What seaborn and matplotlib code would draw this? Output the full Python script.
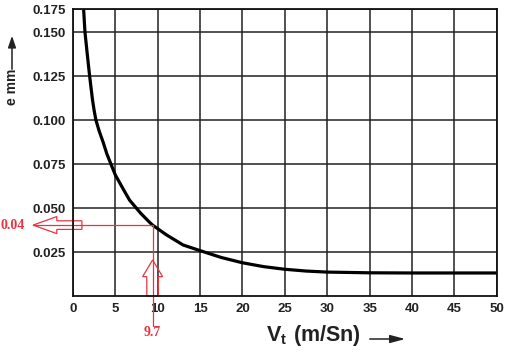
import numpy as np
import pandas as pd
import matplotlib
matplotlib.use('Agg')
import matplotlib.pyplot as plt
import matplotlib.patches as mpatches
import seaborn as sns

# values
vt = [1.1, 1.26, 1.42, 1.7, 1.97, 2.3, 2.5, 2.71, 3.1, 3.57, 4.0, 4.48, 5.0, 6.0, 6.68, 8.0, 9.08, 9.4,
      11.05, 13.0, 15.0, 17.5, 20, 22.5, 25, 27.5, 30, 35, 40, 45, 50]
e_mm = [0.172, 0.163, 0.150, 0.137, 0.125, 0.1118, 0.1055, 0.100, 0.0937, 0.0873, 0.0808, 0.075, 0.0688,
        0.0602, 0.0545, 0.047, 0.0417, 0.0403, 0.0347, 0.029, 0.0258, 0.0219, 0.0189, 0.0167, 0.0152,
        0.0142, 0.0136, 0.0132, 0.0131, 0.0131, 0.0131]
x_ticks = [0, 5, 10, 15, 20, 25, 30, 35, 40, 45, 50]
y_ticks = [0.025, 0.050, 0.075, 0.100, 0.125, 0.150, 0.163]
y_labels = ['0.025', '0.050', '0.075', '0.100', '0.125', '0.150', '0.175']
y_top = 0.163
mark_x = 9.4
mark_y = 0.0403
mark_x_label = '9.7'
mark_y_label = '0.04'

df = pd.DataFrame({'Vt': vt, 'e': e_mm})

sns.set_style('white')
plt.rcParams['font.family'] = ['Liberation Sans', 'DejaVu Sans']
plt.rcParams['mathtext.fontset'] = 'custom'
plt.rcParams['mathtext.bf'] = 'Liberation Sans:bold'
plt.rcParams['mathtext.rm'] = 'Liberation Sans:bold'

fig = plt.figure(figsize=(5.1, 3.52), dpi=100)
ax = fig.add_axes([0.143, 0.159, 0.831, 0.815])

sns.lineplot(data=df, x='Vt', y='e', ax=ax, color='black', linewidth=2.3)
ax.lines[0].set_solid_joinstyle('round')

ax.set_xlim(0, 50)
ax.set_ylim(0, y_top)
ax.set_xticks(x_ticks)
ax.set_yticks(y_ticks)
ax.set_yticklabels(y_labels)
ax.grid(True, color='#222222', linewidth=1.1)
ax.tick_params(length=0, labelsize=9.5, pad=5)
for lab in ax.get_xticklabels() + ax.get_yticklabels():
    lab.set_fontweight('bold')
    lab.set_color('#222222')
for s in ax.spines.values():
    s.set_color('#111111')
    s.set_linewidth(1.3)
ax.set_xlabel('')
ax.set_ylabel('')

# axis titles with arrows
fig.text(12 / 510, 1 - 87 / 352, 'e mm', rotation=90, fontsize=10, fontweight='bold',
         color='#222222', ha='center', va='center')
fig.add_artist(mpatches.FancyArrowPatch((12 / 510, 1 - 72 / 352), (12 / 510, 1 - 33 / 352),
                                        transform=fig.transFigure, arrowstyle='-|>,head_length=3.5,head_width=1.2',
                                        color='#222222', lw=1.1, mutation_scale=2))
fig.text(313 / 510, 1 - 335 / 352, r'$\mathbf{V}_{\mathrm{t}}\ \mathbf{(m/Sn)}$', fontsize=15.5,
         color='#222222', ha='center', va='center')
fig.add_artist(mpatches.FancyArrowPatch((367 / 510, 1 - 339 / 352), (408 / 510, 1 - 339 / 352),
                                        transform=fig.transFigure, arrowstyle='-|>,head_length=4.5,head_width=1.2',
                                        color='#222222', lw=1.1, mutation_scale=2))

# red reading lines and hollow arrows
red = '#e8343f'
ax.plot([-4.7, mark_x], [mark_y, mark_y], color=red, linewidth=0.9, clip_on=False)
ax.plot([mark_x, mark_x], [mark_y, -0.017], color=red, linewidth=0.9, clip_on=False)
left_arrow = mpatches.FancyArrow(1.06, mark_y, -5.76, 0, width=0.0049, head_width=0.0097,
                                 head_length=2.8, length_includes_head=True, fill=False,
                                 ec=red, lw=0.9, clip_on=False, transform=ax.transData)
up_arrow = mpatches.FancyArrow(mark_x, 0, 0, 0.0205, width=1.37, head_width=2.36,
                               head_length=0.0095, length_includes_head=True, fill=False,
                               ec=red, lw=0.9, clip_on=False, transform=ax.transData)
ax.add_patch(left_arrow)
ax.add_patch(up_arrow)
ax.text(-8.5, mark_y, mark_y_label, color=red, fontsize=10, fontweight='bold',
        family='Liberation Serif', ha='left', va='center', clip_on=False)
ax.text(mark_x, -0.0205, mark_x_label, color=red, fontsize=10, fontweight='bold',
        family='Liberation Serif', ha='center', va='center', clip_on=False)

fig.savefig('out.png', dpi=100)
